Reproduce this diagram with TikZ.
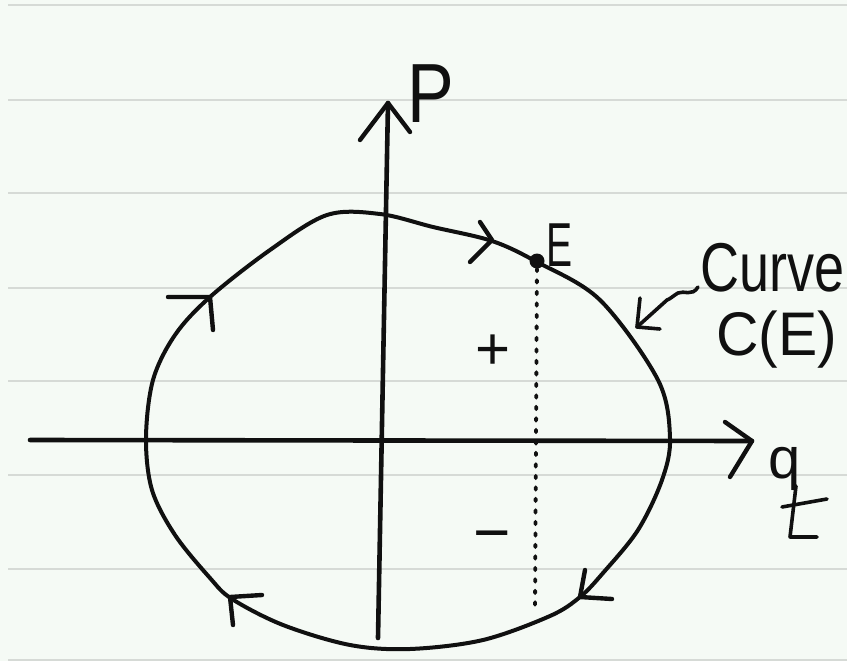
\documentclass[tikz,border=0pt]{standalone}
\usepackage{fontspec}
\setmainfont{Liberation Sans}
\usetikzlibrary{arrows.meta}
\definecolor{paper}{HTML}{F5FAF5}
\definecolor{rulecol}{HTML}{D6DAD6}
\definecolor{ink}{HTML}{101010}
\begin{document}
\begin{tikzpicture}[x=1pt,y=-1pt,
  ruling/.style={draw=rulecol,line width=2.5pt},
  inkline/.style={draw=ink,line width=4pt,line cap=round,line join=round},
  axisline/.style={inkline,line width=4.6pt},
  chev/.style={inkline,line width=4.4pt},
  thinink/.style={inkline,line width=3.6pt},
  lbl/.style={inner sep=0pt,text=ink,anchor=base west}]
\fill[paper] (0,0) rectangle (847,661);
\useasboundingbox (0,0) rectangle (847,661);
\foreach \yy in {5,100,193,288,381,475,569,660} \draw[ruling] (8,\yy) -- (847,\yy);

% axes
\coordinate (qs) at (30,440);
\coordinate (qe) at (752,441);
\draw[axisline] (qs) -- (qe);
\draw[chev] (725,422) -- (qe) -- (730,477);
\coordinate (ps) at (378,638);
\coordinate (pe) at (388,103);
\draw[axisline] (ps) -- (pe);
\draw[chev] (360,140) -- (pe) -- (410,132);

% closed curve C(E)
\draw[inkline] plot[smooth cycle, tension=0.55] coordinates {(146,438) (153,380) (175,335) (210,297) (270,250) (327,215) (380,214) (433,227) (492,241) (537,262) (600,300) (658,380) (670,438) (662,480) (638,530) (603,573) (580,597) (550,616) (483,640) (410,649) (350,645) (283,625) (232,599) (210,578) (175,535) (152,490)};

% direction chevrons
\draw[chev] (168,297) -- (210,297) -- (213,330);
\draw[chev] (480,222) -- (492,240) -- (470,262);
\draw[chev] (585,570) -- (580,597) -- (612,599);
\draw[chev] (262,595) -- (230,597) -- (233,625);

% point E and dotted line
\node[circle, fill=ink, inner sep=0pt, minimum size=15pt] (Edot) at (537,261) {};
\coordinate (dotend) at (535,612);
\draw[draw=ink, line width=3.8pt, line cap=round, dash pattern=on 2.5pt off 9pt] (Edot) -- (dotend);
\node[lbl] (Elbl) at (546,266) {\fontsize{46}{46}\selectfont\scalebox{0.85}[1.35]{E}};

% signs
\node[lbl, anchor=base] (plus) at (493,369) {\fontsize{60}{60}\selectfont +};
\node[lbl, anchor=base] (minus) at (492,554) {\fontsize{64}{64}\selectfont −};

% axis labels
\node[lbl] (plbl) at (407,123) {\fontsize{70}{70}\selectfont\scalebox{1}[1.2]{P}};
\node[lbl] (qlbl) at (768,478) {\fontsize{58}{58}\selectfont q};
\draw[thinink] (796,486) -- (790,537) -- (817,537);
\draw[thinink] (782,507) -- (827,499);

% curve label and pointer
\node[lbl] (curvelbl) at (700,291) {\fontsize{54}{54}\selectfont\scalebox{1}[1.28]{Curve}};
\node[lbl] (celbl) at (716,355) {\fontsize{56}{56}\selectfont\scalebox{1.05}[1.1]{C(E)}};
\coordinate (ptip) at (637,327);
\draw[thinink] (698,287) .. controls (692,297) and (684,290) .. (678,293) .. controls (673,296) and (670,299) .. (667,300) -- (ptip);
\draw[thinink] (640,298) -- (ptip) -- (660,329);
\end{tikzpicture}
\end{document}
